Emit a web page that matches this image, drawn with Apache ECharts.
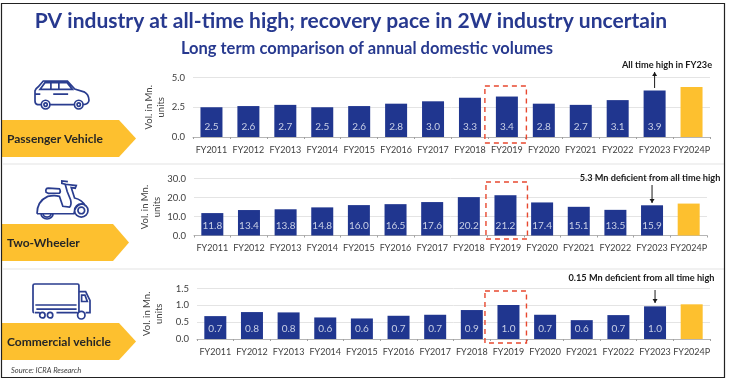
<!DOCTYPE html>
<html>
<head>
<meta charset="utf-8">
<style>
  html, body { margin: 0; padding: 0; background: #fff; }
  #chart { width: 734px; height: 379px; }
</style>
<script src="https://cdn.jsdelivr.net/npm/echarts@6/dist/echarts.min.js"></script>
</head>
<body>
<div id="chart"></div>
<script>
const categories = ["FY2011","FY2012","FY2013","FY2014","FY2015","FY2016","FY2017","FY2018","FY2019","FY2020","FY2021","FY2022","FY2023","FY2024P"];

const pvValues = [2.5,2.6,2.7,2.5,2.6,2.8,3.0,3.3,3.4,2.8,2.7,3.1,3.9,4.2];
const pvLabels = ["2.5","2.6","2.7","2.5","2.6","2.8","3.0","3.3","3.4","2.8","2.7","3.1","3.9",""];
const twValues = [11.8,13.4,13.8,14.8,16.0,16.5,17.6,20.2,21.2,17.4,15.1,13.5,15.9,16.8];
const twLabels = ["11.8","13.4","13.8","14.8","16.0","16.5","17.6","20.2","21.2","17.4","15.1","13.5","15.9",""];
const cvValues = [0.68,0.8,0.79,0.64,0.61,0.69,0.72,0.86,1.01,0.72,0.56,0.71,0.97,1.03];
const cvLabels = ["0.7","0.8","0.8","0.6","0.6","0.7","0.7","0.9","1.0","0.7","0.6","0.7","1.0",""];

const FONT = "Lato";
const NAVY = "#20368f";
const YELLOW = "#fdc02f";
const RED = "#e8482f";

// rows: plot rectangle + axis range
const rows = [
  { values: pvValues, labels: pvLabels, left: 193, right: 24, top: 77.5, height: 59.5, max: 5, interval: 2.5, nameGap: 26 },
  { values: twValues, labels: twLabels, left: 194, right: 27, top: 178.5, height: 57, max: 30, interval: 10, nameGap: 31 },
  { values: cvValues, labels: cvLabels, left: 197, right: 24, top: 288.5, height: 50.5, max: 1.5, interval: 0.5, nameGap: 32 }
];

const myChart = echarts.init(document.getElementById("chart"), null, { renderer: "canvas" });

const grid = rows.map(r => ({ left: r.left, right: r.right, top: r.top, height: r.height, containLabel: false }));
const xAxis = rows.map((r, i) => ({
  type: "category",
  gridIndex: i,
  data: categories,
  axisLine: { lineStyle: { color: "#b5b5b5", width: 1 } },
  axisTick: { show: true, alignWithLabel: false, length: 2, lineStyle: { color: "#a0a0a0" } },
  axisLabel: { interval: 0, color: "#404040", fontFamily: FONT, fontSize: 9, margin: 8.5, hideOverlap: false }
}));
const yAxis = rows.map((r, i) => ({
  type: "value",
  gridIndex: i,
  min: 0,
  max: r.max,
  interval: r.interval,
  name: "Vol. in Mn.\nunits",
  nameLocation: "middle",
  nameGap: r.nameGap,
  nameMoveOverlap: false,
  nameRotate: 90,
  nameTextStyle: { color: "#404040", fontFamily: FONT, fontSize: 9.5, lineHeight: 12 },
  axisLine: { show: false },
  axisTick: { show: false },
  axisLabel: { color: "#404040", fontFamily: FONT, fontSize: 9.5, margin: 8, formatter: v => v.toFixed(1) },
  splitLine: { lineStyle: { color: "#e4e4e4", width: 1 } }
}));
const series = rows.map((r, i) => ({
  type: "bar",
  xAxisIndex: i,
  yAxisIndex: i,
  barWidth: 22,
  data: r.values.map((v, j) => ({
    value: v,
    itemStyle: { color: j === categories.length - 1 ? YELLOW : NAVY },
    label: { formatter: r.labels[j] }
  })),
  label: {
    show: true,
    position: "insideBottom",
    distance: 5,
    color: "#c9d0e6",
    fontFamily: FONT,
    fontSize: 10
  }
}));

function banner(y, h, w, tip) {
  return { type: "polygon", shape: { points: [[2, y], [w, y], [tip, y + h / 2], [w, y + h], [2, y + h]] }, style: { fill: YELLOW }, silent: true };
}
function bannerText(text, y, size) {
  return { type: "text", style: { x: 7, y: y, text: text, fill: "#262626", font: "bold " + size + "px " + FONT, textVerticalAlign: "middle" } };
}

const carPath = "M49 103 L38 103 Q30 101 30 92 L30 62 Q32 55 40 50 L55 33 L128 33 L150 57 L180 66 Q192 72 193 90 Q192 102 175 103 M149 103 L75 103 M45 58 L60 38 L127 38 L143 58 Z M78 38 L78 58 M102 38 L102 58 M30 72 L46 72 M85 72 L130 72 M49 103 a13 13 0 1 0 26 0 a13 13 0 1 0 -26 0 M57 103 a5 5 0 1 0 10 0 a5 5 0 1 0 -10 0 M149 103 a13 13 0 1 0 26 0 a13 13 0 1 0 -26 0 M157 103 a5 5 0 1 0 10 0 a5 5 0 1 0 -10 0";
const scooterPath = "M38 128 Q38 90 70 75 Q90 70 105 75 L115 105 L135 108 Q142 100 138 85 L128 60 L122 38 L112 35 L112 28 L130 30 M122 38 L155 42 L152 50 L140 48 L150 80 Q172 85 183 105 M38 128 L148 128 Q150 105 170 98 M65 62 Q62 50 72 50 L105 52 Q110 60 105 65 L72 66 Z M50 128 a18 16 0 0 0 36 0 M56 128 a12 10 0 0 0 24 0 M150 118 a20 20 0 1 0 40 0 a20 20 0 1 0 -40 0 M160 118 a10 10 0 1 0 20 0 a10 10 0 1 0 -20 0";
const truckPath = "M28 100 Q25 100 25 95 L25 22 Q25 18 30 18 L158 18 Q162 18 162 22 L162 100 M32 78 L155 78 M35 90 L155 90 M30 100 L45 100 M95 100 L158 100 M162 40 L182 40 L195 65 L195 100 L182 100 M170 50 L180 50 L187 68 L170 68 Z M45 107 a8 8 0 1 0 16 0 a8 8 0 1 0 -16 0 M68 107 a8 8 0 1 0 16 0 a8 8 0 1 0 -16 0 M158 107 a11 11 0 1 0 22 0 a11 11 0 1 0 -22 0";

const icons = [
  { path: carPath, x: 35, y: 81, width: 54, height: 28 },
  { path: scooterPath, x: 37, y: 181, width: 51, height: 38 },
  { path: truckPath, x: 33, y: 284, width: 57, height: 35 }
];

// the graphic component has no plain path type, a custom series does
series.push({
  type: "custom",
  coordinateSystem: "none",
  silent: true,
  data: [0],
  renderItem: () => ({
    type: "group",
    children: icons.map(ic => ({
      type: "path",
      shape: { pathData: ic.path, layout: "cover", x: ic.x, y: ic.y, width: ic.width, height: ic.height },
      style: { fill: "none", stroke: "#2a3d8f", lineWidth: 1.7 }
    }))
  })
});

const graphics = [
  // frame and row separators
  { type: "rect", shape: { x: 1.5, y: 3.5, width: 723, height: 374 }, style: { fill: "none", stroke: "#222", lineWidth: 1.2 }, z: 10 },
  { type: "rect", shape: { x: 3, y: 163, width: 721, height: 2 }, style: { fill: "#f1f1f1" } },
  { type: "rect", shape: { x: 3, y: 268, width: 721, height: 2 }, style: { fill: "#f1f1f1" } },
  // titles
  { type: "text", style: { x: 351, y: 21, text: "PV industry at all-time high; recovery pace in 2W industry uncertain", fill: "#27398f", font: "bold 21px " + FONT, textAlign: "center", textVerticalAlign: "middle" } },
  { type: "text", style: { x: 367, y: 49, text: "Long term comparison of annual domestic volumes", fill: "#27398f", font: "bold 16.5px " + FONT, textAlign: "center", textVerticalAlign: "middle" } },
  // banners
  banner(120, 37, 119, 136),
  banner(224, 37, 113, 129),
  banner(323, 37, 119, 136),
  bannerText("Passenger Vehicle", 139, 12),
  bannerText("Two-Wheeler", 243, 12),
  bannerText("Commercial vehicle", 342, 12),
  { type: "text", style: { x: 11, y: 371, text: "Source: ICRA Research", fill: "#404040", font: "italic 7.5px " + FONT, textVerticalAlign: "middle" } }
];

myChart.setOption({
  animation: false,
  backgroundColor: "#fff",
  grid: grid,
  xAxis: xAxis,
  yAxis: yAxis,
  series: series,
  graphic: graphics
});

// annotations are anchored to the axes, so work them out after layout
const annotated = [
  { text: "All time high in FY23e", textX: 667, textY: 65, arrowFrom: 72, arrowTo: 88, up: true },
  { text: "5.3 Mn deficient from all time high", textX: 650, textY: 178, arrowFrom: 185, arrowTo: 203, up: false },
  { text: "0.15 Mn deficient from all time high", textX: 641.5, textY: 278, arrowFrom: 290, arrowTo: 303, up: false }
];
// dashed box: offset from the FY2019 bar centre, top and bottom
const boxes = [
  { dx: -22, top: 86, bottom: 143 },
  { dx: -19.5, top: 182, bottom: 239 },
  { dx: -23.5, top: 291, bottom: 343 }
];
const extra = [];
rows.forEach((r, i) => {
  const x19 = myChart.convertToPixel({ xAxisIndex: i }, "FY2019");
  const x23 = myChart.convertToPixel({ xAxisIndex: i }, "FY2023");
  const b = boxes[i];
  extra.push({
    type: "rect",
    shape: { x: x19 + b.dx, y: b.top, width: 41.5, height: b.bottom - b.top },
    style: { fill: "none", stroke: RED, lineWidth: 1.4, lineDash: [5, 4] },
    z: 5
  });
  const a = annotated[i];
  extra.push({ type: "text", style: { x: a.textX, y: a.textY, text: a.text, fill: "#1a1a1a", font: "bold 9.2px " + FONT, textAlign: "center", textVerticalAlign: "middle" }, z: 5 });
  const tipY = a.up ? a.arrowFrom : a.arrowTo;
  const tailY = a.up ? a.arrowTo : a.arrowFrom;
  const d = a.up ? 4 : -4;
  extra.push({ type: "line", shape: { x1: x23, y1: tailY, x2: x23, y2: tipY }, style: { stroke: "#1a1a1a", lineWidth: 1 }, z: 5 });
  extra.push({ type: "polygon", shape: { points: [[x23, tipY], [x23 - 2.5, tipY + d], [x23 + 2.5, tipY + d]] }, style: { fill: "#1a1a1a" }, z: 5 });
});
myChart.setOption({ graphic: graphics.concat(extra) });
</script>
</body>
</html>
